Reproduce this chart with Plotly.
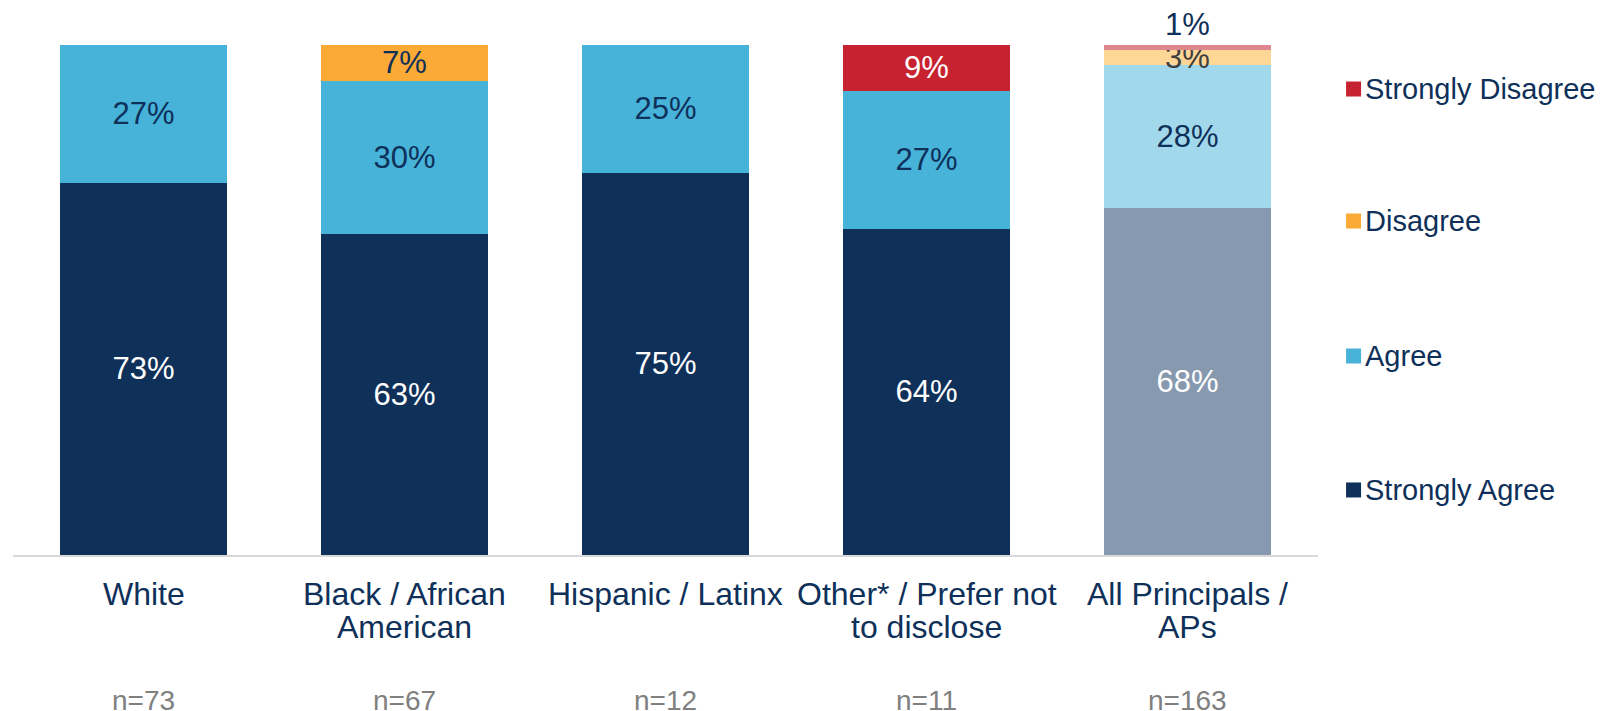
import plotly.graph_objects as go

# Survey response shares (%) by respondent group
categories = ["White", "Black / African<br>American", "Hispanic / Latinx",
              "Other* / Prefer not<br>to disclose", "All Principals /<br>APs"]
sample_sizes = ["n=73", "n=67", "n=12", "n=11", "n=163"]

strongly_agree = [73, 63, 75, 64, 68]
agree = [27, 30, 25, 27, 28]
disagree = [0, 7, 0, 0, 3]
strongly_disagree = [0, 0, 0, 9, 1]

NAVY = "#0E3059"
FONT = "Liberation Sans, Arial, sans-serif"

# Group colours; the overall column uses a muted palette
series = [
    ("Strongly Agree", strongly_agree, ["#0E3059"] * 4 + ["#8799AF"], ["white"] * 5),
    ("Agree", agree, ["#47B3D9"] * 4 + ["#A2D8EC"], [NAVY] * 5),
    ("Disagree", disagree, ["#FBAA35"] * 4 + ["#FED797"], [NAVY] * 4 + ["#404040"]),
    ("Strongly Disagree", strongly_disagree, ["#C7222F"] * 4 + ["#E0868E"], ["white"] * 4 + [NAVY]),
]

fig = go.Figure()
for name, vals, colors, tcolors in series:
    texts = [f"{v}%" if v > 0 else "" for v in vals]
    positions = ["inside"] * len(vals)
    if name == "Strongly Disagree":
        positions = ["inside" if v >= 5 else "outside" for v in vals]
    fig.add_trace(go.Bar(
        name=name,
        x=categories,
        y=vals,
        marker=dict(color=colors, line=dict(width=0)),
        text=texts,
        textposition=positions,
        insidetextanchor="middle",
        constraintext="none",
        textfont=dict(family=FONT, size=31, color=tcolors),
        cliponaxis=False,
        hoverinfo="skip",
        showlegend=False,
    ))

# Group labels (tight line spacing) and sample sizes beneath the axis
LINE_Y = [-0.077, -0.142]
for cat, n in zip(categories, sample_sizes):
    for i, line in enumerate(cat.split("<br>")):
        fig.add_annotation(
            x=cat, y=LINE_Y[i], xref="x", yref="paper",
            text=line, showarrow=False, yanchor="middle",
            font=dict(family=FONT, size=32, color=NAVY),
        )
    fig.add_annotation(
        x=cat, y=-0.286, xref="x", yref="paper",
        text=n, showarrow=False, yanchor="middle",
        font=dict(family=FONT, size=28, color="#808080"),
    )

# Key on the right: widely spaced entries, top entry = top of the stack
KEY_Y = [0.9137, 0.6549, 0.3902, 0.1275]
KEY_HALF = 0.0147
for (name, _, colors, _), ky in zip(reversed(series), KEY_Y):
    fig.add_shape(
        type="rect", xref="paper", yref="paper",
        x0=1.0215, x1=1.0330, y0=ky - KEY_HALF, y1=ky + KEY_HALF,
        fillcolor=colors[0], line=dict(width=0),
    )
    fig.add_annotation(
        x=1.0345, y=ky, xref="paper", yref="paper",
        text=name, showarrow=False, xanchor="left", yanchor="middle",
        font=dict(family=FONT, size=29, color=NAVY),
    )

fig.update_layout(
    width=1607, height=711,
    barmode="stack",
    bargap=0.36,
    plot_bgcolor="white",
    paper_bgcolor="white",
    margin=dict(l=13, r=289, t=45, b=156),
    showlegend=False,
    xaxis=dict(
        showline=True, linecolor="#D9D9D9", linewidth=2,
        ticks="", showticklabels=False,
        showgrid=False,
    ),
    yaxis=dict(range=[0, 100], visible=False, showgrid=False),
)

fig.write_html("out.html")
